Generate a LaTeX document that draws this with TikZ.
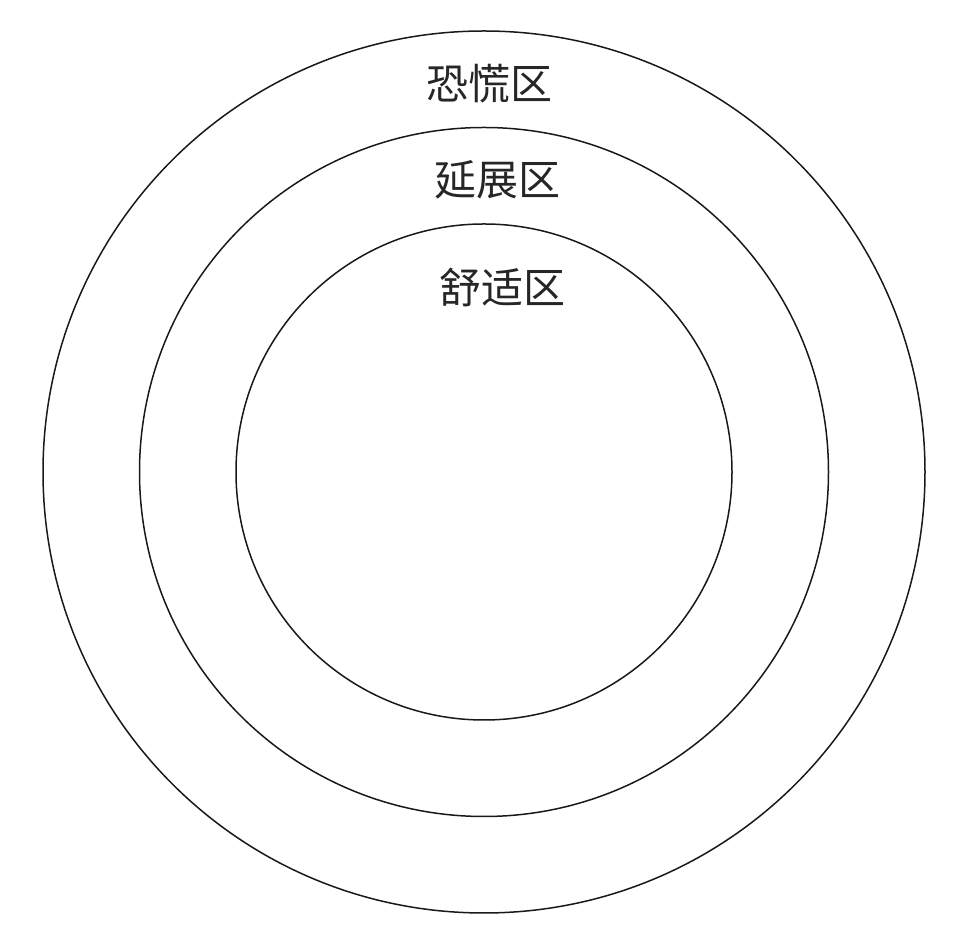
\documentclass[tikz,border=0pt]{standalone}
\usepackage{fontspec}
\newfontfamily\cjk{Noto Sans CJK SC}
\begin{document}
\begin{tikzpicture}[x=1pt,y=1pt,
  ring/.style={circle,draw=black!90,line width=1.5pt,inner sep=0pt},
  zone/.style={font=\cjk\fontsize{42}{44}\selectfont,text=black!85,inner sep=0pt}]
\useasboundingbox (0,0) rectangle (962,942);
\node[ring,minimum size=882pt] (outer) at (484,470) {};
\node[ring,minimum size=689pt] (middle) at (484,470) {};
\node[ring,minimum size=496pt] (inner) at (484,470) {};
\node[zone] (panic) at (489,858) {恐慌区};
\node[zone] (stretch) at (497,762) {延展区};
\node[zone] (comfort) at (502,655) {舒适区};
\end{tikzpicture}
\end{document}
